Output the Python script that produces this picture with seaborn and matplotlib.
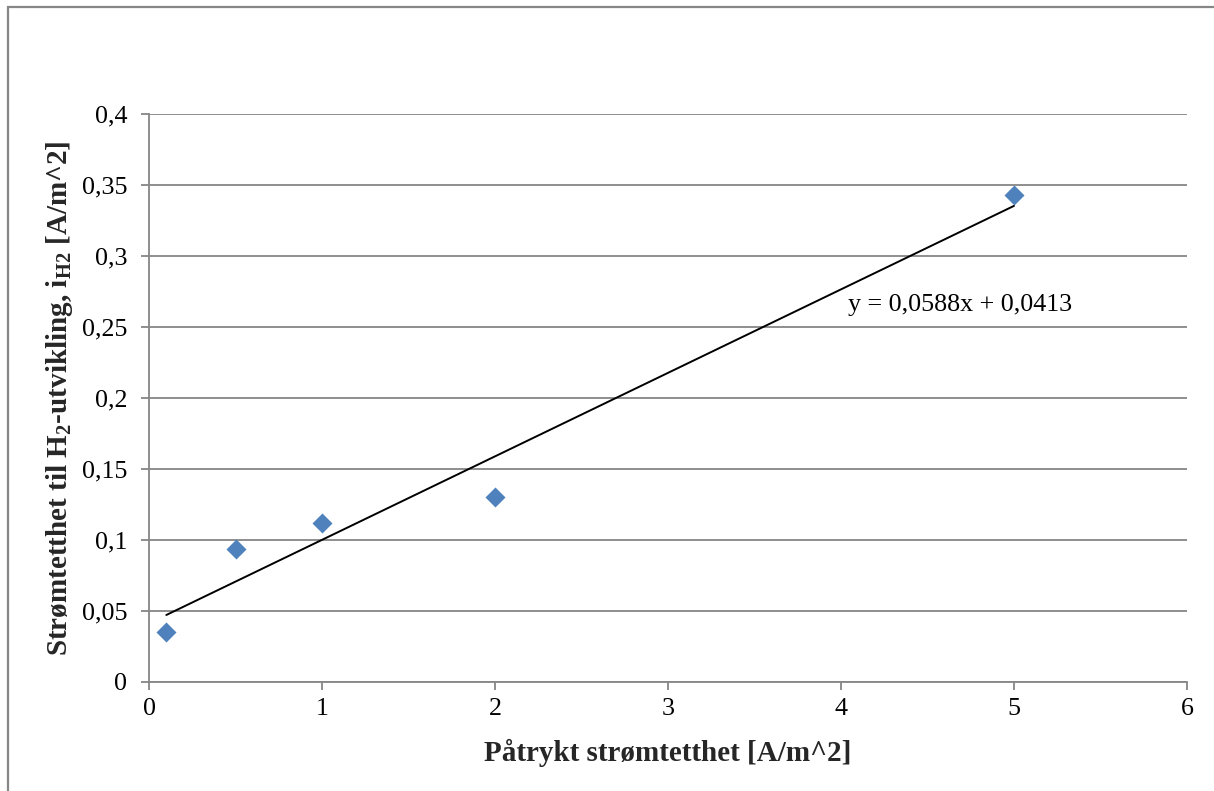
import matplotlib
matplotlib.use("Agg")
import matplotlib.pyplot as plt
import matplotlib.patches as mpatches
from matplotlib.ticker import FuncFormatter
import numpy as np
import pandas as pd
import seaborn as sns

# Measured data
applied_current = [0.1, 0.5, 1.0, 2.0, 5.0]          # A/m^2
h2_current = [0.035, 0.094, 0.112, 0.130, 0.343]     # A/m^2

# Linear trendline
trend_slope = 0.0588
trend_intercept = 0.0413

x_ticks = [0, 1, 2, 3, 4, 5, 6]
y_ticks = [0, 0.05, 0.1, 0.15, 0.2, 0.25, 0.3, 0.35, 0.4]

sns.set_style("white")
plt.rcParams["font.family"] = ["Liberation Serif", "DejaVu Serif"]
plt.rcParams["mathtext.fontset"] = "custom"
plt.rcParams["mathtext.rm"] = "Liberation Serif"
plt.rcParams["mathtext.bf"] = "Liberation Serif:bold"

grey = "#868686"
blue = "#4F81BD"

df = pd.DataFrame({"applied": applied_current, "h2": h2_current})

fig = plt.figure(figsize=(12.14, 7.91), dpi=100)
ax = fig.add_axes([149 / 1214, 1 - 682 / 791, (1187 - 149) / 1214, (682 - 114) / 791])

# Chart area frame
frame = mpatches.Rectangle((8 / 1214, -0.1), 1.2, 1.1 - 7 / 791,
                           transform=fig.transFigure, fill=False,
                           edgecolor=grey, linewidth=1.6, zorder=-1)
fig.patches.append(frame)

sns.scatterplot(data=df, x="applied", y="h2", marker="D", s=104,
                color=blue, linewidth=0, ax=ax, zorder=3)

xt = np.array([min(applied_current), max(applied_current)])
ax.plot(xt, trend_slope * xt + trend_intercept, color="black", linewidth=1.4, zorder=2)

ax.set_xlim(x_ticks[0], x_ticks[-1])
ax.set_ylim(y_ticks[0], y_ticks[-1])
ax.set_xticks(x_ticks)
ax.set_yticks(y_ticks)

fmt = FuncFormatter(lambda v, p: f"{v:g}".replace(".", ","))
ax.xaxis.set_major_formatter(fmt)
ax.yaxis.set_major_formatter(fmt)

ax.yaxis.grid(True, color=grey, linewidth=1.3)
ax.xaxis.grid(False)
ax.set_axisbelow(True)

for side in ["top", "right"]:
    ax.spines[side].set_visible(False)
for side in ["left", "bottom"]:
    ax.spines[side].set_color(grey)
    ax.spines[side].set_linewidth(1.3)

ax.tick_params(axis="both", which="major", direction="out", length=5.8,
               width=1.3, color=grey, labelsize=18.75, labelcolor="black")
ax.tick_params(axis="x", pad=6)
ax.tick_params(axis="y", pad=10)
ax.yaxis.set_ticks_position("left")
ax.xaxis.set_ticks_position("bottom")

ax.set_xlabel("Påtrykt strømtetthet [A/m^2]", fontsize=21, fontweight="bold", labelpad=13)
ax.set_ylabel(r"Strømtetthet til H$_\mathbf{2}$-utvikling, i$_\mathbf{H2}$ [A/m^2]",
              fontsize=21, fontweight="bold", labelpad=4.6)

ax.text(4.04, 0.2655, f"y = {trend_slope:.4f}x + {trend_intercept:.4f}".replace(".", ","),
        fontsize=18.75, ha="left", va="center", color="black")

fig.savefig("out.png", dpi=100)
